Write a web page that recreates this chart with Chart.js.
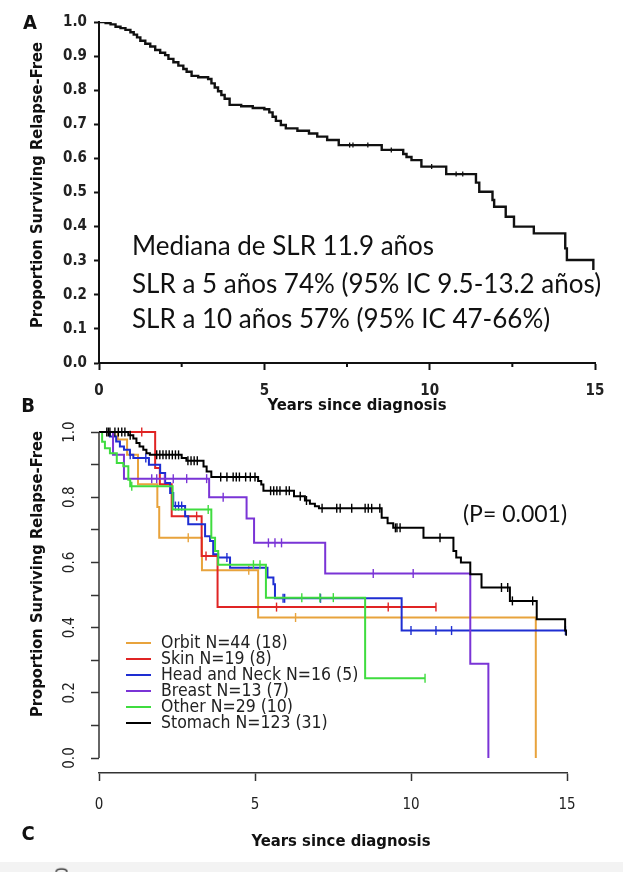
<!DOCTYPE html>
<html><head><meta charset="utf-8">
<script src="https://cdn.jsdelivr.net/npm/chart.js@4.4.1/dist/chart.umd.min.js"></script>
<style>
html,body{margin:0;padding:0;background:#fff;}
body{width:623px;height:872px;position:relative;overflow:hidden;}
canvas{position:absolute;left:0;}
.c{position:absolute;white-space:nowrap;transform:translate(-50%,-50%);line-height:1;color:#111;}
.l{position:absolute;white-space:nowrap;transform:translateY(-50%);line-height:1;color:#111;}
.r{transform:translate(-50%,-50%) rotate(-90deg);}
.cond{font-family:'DejaVu Sans Condensed','DejaVu Sans',sans-serif;}
.b{font-weight:bold;}
.ann{font-family:Lato,'Open Sans',sans-serif;font-size:26px;}
.leg{position:absolute;left:126px;width:25px;height:0;border-top:2px solid #000;transform:translateY(-50%);}
</style></head><body>
<div style="position:absolute;left:0;top:862px;width:623px;height:10px;background:#f3f3f3"></div>
<canvas id="ca" width="623" height="420" style="top:0"></canvas>
<canvas id="cb" width="623" height="472" style="top:400px"></canvas>
<div id="overlay"></div>
<script>
// ---------- Panel A data ----------
const panelAYears = [0, 0.2, 0.35, 0.5, 0.65, 0.8, 0.95, 1.05, 1.15, 1.25, 1.4, 1.55, 1.7, 1.85, 2.0, 2.1, 2.25, 2.4, 2.55, 2.65, 2.8, 3.0, 3.3, 3.4, 3.5, 3.6, 3.7, 3.8, 3.95, 4.3, 4.65, 5.0, 5.15, 5.25, 5.35, 5.5, 5.65, 6.0, 6.35, 6.6, 6.9, 7.25, 8.55, 9.2, 9.3, 9.45, 9.75, 10.5, 11.4, 11.5, 11.9, 11.95, 12.3, 12.55, 13.15, 14.1, 14.15, 14.95];
const panelASurv  = [1.0, 0.997, 0.993, 0.986, 0.982, 0.977, 0.97, 0.963, 0.955, 0.945, 0.936, 0.928, 0.918, 0.91, 0.903, 0.892, 0.882, 0.872, 0.862, 0.854, 0.842, 0.838, 0.833, 0.82, 0.808, 0.797, 0.786, 0.775, 0.757, 0.753, 0.748, 0.744, 0.735, 0.722, 0.71, 0.698, 0.688, 0.681, 0.673, 0.664, 0.654, 0.639, 0.625, 0.613, 0.604, 0.595, 0.576, 0.554, 0.529, 0.502, 0.478, 0.458, 0.429, 0.40, 0.38, 0.336, 0.302, 0.273];
const panelACensor = [7.58, 7.68, 8.13, 8.84, 10.06, 10.8, 11.0];
const yTicksA = [0, 0.1, 0.2, 0.3, 0.4, 0.5, 0.6, 0.7, 0.8, 0.9, 1.0];
const xTicksA = [0, 5, 10, 15];
const xMinorTicksA = [2.5, 7.5, 12.5];

// ---------- Panel B data ----------
const groupNames = ['Orbit N=44 (18)', 'Skin N=19 (8)', 'Head and Neck N=16 (5)', 'Breast N=13 (7)', 'Other N=29 (10)', 'Stomach N=123 (31)'];

const orbitYears  = [0, 0.6, 0.9, 1.25, 1.87, 1.93, 3.3, 5.1, 14.0];
const orbitSurv   = [1.0, 0.977, 0.93, 0.84, 0.77, 0.676, 0.576, 0.431, 0.0];
const orbitCensor = [2.86, 4.8, 6.3];

const skinYears  = [0, 1.8, 1.95, 2.33, 3.29, 3.8, 10.8];
const skinSurv   = [1.0, 0.89, 0.84, 0.742, 0.62, 0.463, 0.463];
const skinCensor = [1.37, 3.13, 3.43, 5.69, 9.27, 10.8];

const headNeckYears  = [0, 0.35, 0.55, 0.67, 0.8, 0.99, 1.1, 1.6, 1.96, 2.12, 2.28, 2.38, 2.76, 2.86, 3.4, 3.56, 3.66, 3.82, 4.2, 5.4, 5.59, 5.64, 9.7, 14.95];
const headNeckSurv   = [1.0, 0.986, 0.971, 0.956, 0.946, 0.93, 0.92, 0.90, 0.874, 0.844, 0.813, 0.773, 0.742, 0.717, 0.68, 0.666, 0.625, 0.615, 0.584, 0.554, 0.533, 0.49, 0.391, 0.391];
const headNeckCensor = [1.0, 1.5, 2.45, 2.55, 2.65, 4.1, 5.9, 5.95, 7.1, 10.0, 10.8, 11.3, 14.95];

const breastYears  = [0, 0.45, 0.8, 3.53, 4.73, 4.97, 7.25, 11.9, 12.48];
const breastSurv   = [1.0, 0.93, 0.857, 0.80, 0.735, 0.66, 0.566, 0.289, 0.0];
const breastCensor = [1.69, 1.85, 2.1, 2.38, 2.81, 3.45, 3.98, 5.43, 5.64, 5.85, 8.79, 10.07];

const otherYears  = [0, 0.1, 0.19, 0.35, 0.57, 0.78, 0.94, 1.0, 2.36, 3.6, 3.72, 3.82, 5.35, 8.53, 10.45];
const otherSurv   = [1.0, 0.97, 0.95, 0.935, 0.905, 0.895, 0.854, 0.834, 0.762, 0.676, 0.635, 0.593, 0.492, 0.245, 0.245];
const otherCensor = [1.05, 3.5, 4.95, 5.16, 6.5, 7.08, 7.51, 10.45];

const stomachYears  = [0, 0.94, 1.1, 1.2, 1.3, 1.42, 1.52, 1.63, 2.65, 2.8, 3.35, 3.45, 3.6, 5.1, 5.2, 5.27, 6.25, 6.6, 6.76, 6.92, 7.05, 9.06, 9.25, 9.43, 10.4, 11.36, 11.45, 11.6, 11.9, 12.26, 13.17, 14.03, 14.94, 14.98];
const stomachSurv   = [1.0, 0.99, 0.98, 0.966, 0.956, 0.946, 0.935, 0.93, 0.92, 0.912, 0.894, 0.879, 0.862, 0.85, 0.839, 0.82, 0.803, 0.79, 0.78, 0.772, 0.766, 0.737, 0.72, 0.706, 0.676, 0.635, 0.615, 0.60, 0.564, 0.523, 0.482, 0.426, 0.391, 0.375];
const stomachCensor = [0.25, 0.3, 0.35, 0.51, 0.62, 0.73, 0.83, 1.0, 1.85, 1.95, 2.05, 2.15, 2.25, 2.35, 2.45, 2.55, 2.85, 2.95, 3.05, 3.15, 3.9, 4.1, 4.3, 4.4, 4.5, 4.7, 4.85, 5.0, 5.5, 5.6, 5.7, 5.8, 6.0, 6.1, 6.45, 6.65, 7.15, 7.62, 7.73, 8.1, 8.53, 8.63, 8.74, 9.0, 9.5, 9.55, 9.65, 10.93, 12.9, 13.1, 13.25, 13.9];

const yTickValuesB = [0, 0.1, 0.2, 0.3, 0.4, 0.5, 0.6, 0.7, 0.8, 0.9, 1.0];
const yTickLabelsB = ['0.0', '', '0.2', '', '0.4', '', '0.6', '', '0.8', '', '1.0'];
const xTicksB = [0, 5, 10, 15];

const annotationLines = ['Mediana de SLR 11.9 años', 'SLR a 5 años 74% (95% IC 9.5-13.2 años)', 'SLR a 10 años 57% (95% IC 47-66%)'];
const pValueText = '(P= 0.001)';

// ---------- helpers ----------
const COND = "'DejaVu Sans Condensed','DejaVu Sans',sans-serif";
function toPts(xs, ys) { return xs.map((x, i) => ({x: x, y: ys[i]})); }
function survAt(xs, ys, t) { let s = ys[0]; for (let i = 0; i < xs.length; i++) { if (xs[i] <= t) s = ys[i]; } return s; }
function censorPts(xs, ys, cs) { return cs.map(t => ({x: t, y: survAt(xs, ys, t)})); }

const baseOpts = {responsive: false, animation: false, events: [], plugins: {legend: {display: false}, tooltip: {enabled: false}}};

// ---------- Chart A ----------
const minorTickPlugin = {
  id: 'minorTicksA',
  afterDraw(chart) {
    const ctx = chart.ctx, xs = chart.scales.x, b = chart.chartArea.bottom;
    ctx.save(); ctx.strokeStyle = '#111'; ctx.lineWidth = 2;
    xMinorTicksA.forEach(v => { const px = xs.getPixelForValue(v); ctx.beginPath(); ctx.moveTo(px, b); ctx.lineTo(px, b + 4); ctx.stroke(); });
    ctx.restore();
  }
};
new Chart(document.getElementById('ca'), {
  type: 'line',
  data: {datasets: [
    {data: toPts(panelAYears, panelASurv), stepped: 'before', borderColor: '#111', borderWidth: 2.4, pointRadius: 0, fill: false},
    {data: censorPts(panelAYears, panelASurv, panelACensor), showLine: false, pointStyle: 'line', rotation: 90, pointRadius: 2.5, borderColor: '#111', borderWidth: 1.3, clip: false}
  ]},
  options: Object.assign({}, baseOpts, {
    layout: {padding: {left: 0, top: 22, right: 28, bottom: 0}},
    scales: {
      x: {type: 'linear', min: 0, max: 15,
        afterFit: s => { s.height = 57; },
        afterBuildTicks: s => { s.ticks = xTicksA.map(v => ({value: v})); },
        grid: {drawOnChartArea: false, drawTicks: true, tickLength: 7, tickColor: '#111', tickWidth: 2},
        border: {display: true, color: '#111', width: 2},
        ticks: {padding: 12, color: '#222', autoSkip: false, maxRotation: 0, font: {family: COND, size: 15, weight: 'bold'}, callback: v => String(v)}},
      y: {type: 'linear', min: 0, max: 1,
        afterFit: s => { s.width = 99; },
        afterBuildTicks: s => { s.ticks = yTicksA.map(v => ({value: v})); },
        grid: {drawOnChartArea: false, drawTicks: true, tickLength: 5, tickColor: '#111', tickWidth: 2},
        border: {display: true, color: '#111', width: 2},
        ticks: {padding: 7, color: '#222', autoSkip: false, font: {family: COND, size: 15, weight: 'bold'}, callback: v => Number(v).toFixed(1)}}
    }
  }),
  plugins: [minorTickPlugin]
});

// ---------- Chart B ----------
const groupColors = ['#E8A33C', '#E02424', '#1E2ED2', '#7A34D6', '#3FDC3F', '#000000'];
const groupSeries = [
  [orbitYears, orbitSurv, orbitCensor],
  [skinYears, skinSurv, skinCensor],
  [headNeckYears, headNeckSurv, headNeckCensor],
  [breastYears, breastSurv, breastCensor],
  [otherYears, otherSurv, otherCensor],
  [stomachYears, stomachSurv, stomachCensor]
];
const dsB = [];
groupSeries.forEach((g, i) => {
  const ord = groupSeries.length - i;
  dsB.push({label: groupNames[i], data: toPts(g[0], g[1]), stepped: 'before', borderColor: groupColors[i], borderWidth: 2, pointRadius: 0, fill: false, order: ord});
  dsB.push({data: censorPts(g[0], g[1], g[2]), showLine: false, pointStyle: 'line', rotation: 90, pointRadius: 4.5, borderColor: groupColors[i], borderWidth: 1.4, clip: false, order: ord});
});
const yAxisLineB = {
  id: 'yAxisLineB',
  afterDraw(chart) {
    const ctx = chart.ctx, ys = chart.scales.y, x = chart.chartArea.left;
    ctx.save(); ctx.strokeStyle = '#333'; ctx.lineWidth = 1.5;
    ctx.beginPath(); ctx.moveTo(x, ys.getPixelForValue(yTickValuesB[0])); ctx.lineTo(x, ys.getPixelForValue(yTickValuesB[yTickValuesB.length - 1])); ctx.stroke();
    ctx.restore();
  }
};
new Chart(document.getElementById('cb'), {
  type: 'line',
  data: {datasets: dsB},
  options: Object.assign({}, baseOpts, {
    layout: {padding: {left: 0, top: 17.4, right: 56, bottom: 0}},
    scales: {
      x: {type: 'linear', min: 0, max: 15,
        afterFit: s => { s.height = 99; },
        afterBuildTicks: s => { s.ticks = xTicksB.map(v => ({value: v})); },
        grid: {drawOnChartArea: false, drawTicks: true, tickLength: 8, tickColor: '#333', tickWidth: 1.5},
        border: {display: true, color: '#333', width: 1.5},
        ticks: {padding: 15, color: '#222', autoSkip: false, maxRotation: 0, font: {family: COND, size: 15}, callback: v => String(v)}},
      y: {type: 'linear', min: -0.046, max: 1.04,
        afterFit: s => { s.width = 99; },
        afterBuildTicks: s => { s.ticks = yTickValuesB.map(v => ({value: v})); },
        grid: {drawOnChartArea: false, drawTicks: true, tickLength: 8, tickColor: '#333', tickWidth: 1.5},
        border: {display: false},
        ticks: {padding: 10, color: '#222', autoSkip: false, minRotation: 90, maxRotation: 90, crossAlign: 'center', font: {family: COND, size: 15}, callback: (v, i) => yTickLabelsB[i]}}
    }
  }),
  plugins: [yAxisLineB]
});

// ---------- HTML text overlay ----------
const ov = document.getElementById('overlay');
function addText(html, cls, left, top, style) {
  const d = document.createElement('div'); d.className = cls; d.textContent = html;
  d.style.left = left + 'px'; d.style.top = top + 'px';
  if (style) d.style.cssText += style;
  ov.appendChild(d); return d;
}
// panel letters
addText('A', 'c cond b', 30, 22, 'font-size:20px');
addText('B', 'c cond b', 28, 405, 'font-size:20px');
addText('C', 'c cond b', 28, 833, 'font-size:20px');
// axis titles
addText('Proportion Surviving Relapse-Free', 'c r cond b', 37, 185, 'font-size:16.4px');
addText('Years since diagnosis', 'c cond b', 357, 405, 'font-size:16.5px');
addText('Proportion Surviving Relapse-Free', 'c r cond b', 37, 574, 'font-size:16.4px');
addText('Years since diagnosis', 'c cond b', 341, 841, 'font-size:16.5px');
// annotations
annotationLines.forEach((t, i) => addText(t, 'l ann', 132, [245, 283, 318][i]));
addText(pValueText, 'c ann', 515, 513, 'font-size:23px');
// legend
groupNames.forEach((n, i) => {
  const y = 643 + 16 * i;
  const ln = document.createElement('div'); ln.className = 'leg';
  ln.style.top = y + 'px'; ln.style.borderTopColor = groupColors[i]; ov.appendChild(ln);
  addText(n, 'l cond', 161, y, 'font-size:17.5px;color:#222');
});
// partial panel C tick label at bottom edge
addText('1.0', 'c r cond', 63, 878, 'font-size:15px;color:#222');
</script>
</body></html>
